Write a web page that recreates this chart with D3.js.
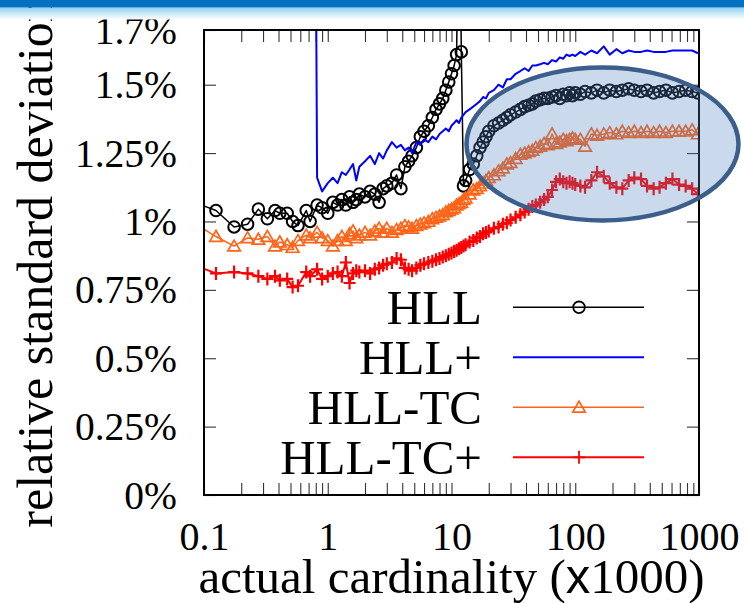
<!DOCTYPE html>
<html>
<head>
<meta charset="utf-8">
<script src="https://cdn.jsdelivr.net/npm/d3@7"></script>
<style>
  html, body { margin: 0; padding: 0; background: #fff; }
  svg { display: block; }
</style>
</head>
<body>
<svg id="chart" width="744" height="603"></svg>
<script>
// Actual cardinality, in thousands (shared sample points of every series)
const cardinality = [
  0.09, 0.125, 0.175, 0.225, 0.275, 0.325, 0.375, 0.41, 0.47, 0.52, 0.575, 0.67, 0.72, 0.82,
  0.9, 1.0, 1.1, 1.2, 1.3, 1.4, 1.5, 1.6, 1.7, 1.8,
  2.0, 2.2, 2.4, 2.6, 2.8, 3.0, 3.3, 3.6, 3.9, 4.2, 4.5, 4.8,
  5.2, 5.6, 6.0, 6.5, 7.0, 7.5, 8.0, 8.5, 9.0, 9.5,
  10, 10.5, 11, 11.5, 12, 12.5, 13, 14, 15, 16, 17, 18, 19,
  20, 22, 24, 26, 28, 30, 33, 36, 39, 42, 45, 48,
  52, 56, 60, 65, 70, 75, 80, 85, 90, 95, 100,
  110, 120, 135, 150, 170, 190, 215, 240, 270, 300,
  340, 380, 430, 480, 540, 610, 690, 780, 880, 980
];

// Relative standard deviation (%) per estimator
const hll = [
  1.064, 1.04, 0.98, 0.99, 1.045, 1.01, 1.04, 1.03, 1.03, 1.0, 0.985, 1.04, 1.0, 1.06,
  1.05, 1.03, 1.07, 1.06, 1.08, 1.06, 1.09, 1.07, 1.08, 1.10,
  1.09, 1.11, 1.10, 1.07, 1.12, 1.13, 1.14, 1.17, 1.12, 1.20, 1.22, 1.24,
  1.27, 1.31, 1.33, 1.35, 1.38, 1.41, 1.43, 1.45, 1.48, 1.51,
  1.54, 1.57, 1.61, 2.4, 1.62, 1.13, 1.15, 1.19, 1.21, 1.24, 1.27, 1.29, 1.31,
  1.33, 1.35, 1.36, 1.37, 1.38, 1.39, 1.40, 1.41, 1.42, 1.425, 1.43, 1.44,
  1.445, 1.45, 1.45, 1.455, 1.46, 1.45, 1.465, 1.46, 1.47, 1.46, 1.47,
  1.465, 1.475, 1.47, 1.48, 1.47, 1.48, 1.475, 1.48, 1.485, 1.48,
  1.475, 1.48, 1.47, 1.475, 1.48, 1.47, 1.475, 1.48, 1.475, 1.47
];

const hllPlus = [
  null, null, null, null, null, null, null, null, null, null, null, null, 6.0, 1.16,
  1.11, 1.14, 1.16, 1.14, 1.18, 1.17, 1.19, 1.21, 1.15, 1.20,
  1.22, 1.24, 1.21, 1.25, 1.23, 1.26, 1.29, 1.27, 1.28, 1.26, 1.27, 1.25,
  1.29, 1.28, 1.30, 1.29, 1.31, 1.30, 1.32, 1.33, 1.34, 1.33,
  1.35, 1.36, 1.37, 1.36, 1.38, 1.39, 1.40, 1.41, 1.42, 1.43, 1.44, 1.455, 1.45,
  1.47, 1.48, 1.50, 1.49, 1.52, 1.52, 1.54, 1.55, 1.56, 1.55, 1.57, 1.57,
  1.575, 1.58, 1.575, 1.59, 1.585, 1.60, 1.595, 1.61, 1.605, 1.61, 1.605,
  1.62, 1.61, 1.625, 1.615, 1.64, 1.61, 1.63, 1.615, 1.625, 1.62,
  1.62, 1.625, 1.62, 1.62, 1.62, 1.625, 1.625, 1.625, 1.625, 1.615
];

const hllTc = [
  0.985, 0.945, 0.91, 0.94, 0.935, 0.945, 0.91, 0.925, 0.915, 0.905, 0.93, 0.95, 0.94, 0.96,
  0.94, 0.93, 0.91, 0.93, 0.945, 0.93, 0.955, 0.965, 0.94, 0.95,
  0.96, 0.95, 0.965, 0.975, 0.96, 0.975, 0.96, 0.97, 0.975, 0.985, 0.98, 0.975,
  0.985, 0.99, 0.995, 1.0, 1.01, 1.015, 1.02, 1.025, 1.035, 1.04,
  1.045, 1.05, 1.06, 1.065, 1.07, 1.08, 1.085, 1.10, 1.115, 1.12, 1.13, 1.14, 1.15,
  1.16, 1.17, 1.185, 1.195, 1.21, 1.215, 1.23, 1.245, 1.25, 1.255, 1.26, 1.27,
  1.275, 1.285, 1.28, 1.32, 1.285, 1.29, 1.30, 1.295, 1.30, 1.305, 1.30,
  1.30, 1.275, 1.32, 1.315, 1.32, 1.325, 1.32, 1.33, 1.325, 1.33,
  1.325, 1.33, 1.325, 1.33, 1.325, 1.33, 1.33, 1.33, 1.335, 1.32
];

const hllTcPlus = [
  0.835, 0.81, 0.815, 0.81, 0.80, 0.79, 0.80, 0.785, 0.79, 0.76, 0.765, 0.815, 0.80, 0.825,
  0.79, 0.80, 0.81, 0.815, 0.80, 0.85, 0.775, 0.81, 0.82, 0.815,
  0.82, 0.81, 0.825, 0.83, 0.84, 0.845, 0.85, 0.865, 0.86, 0.83, 0.825, 0.82,
  0.83, 0.84, 0.845, 0.85, 0.855, 0.86, 0.865, 0.87, 0.875, 0.88,
  0.885, 0.89, 0.895, 0.90, 0.905, 0.91, 0.915, 0.925, 0.93, 0.94, 0.945, 0.955, 0.96,
  0.965, 0.975, 0.98, 0.99, 0.995, 1.005, 1.015, 1.025, 1.035, 1.045, 1.055, 1.06,
  1.07, 1.08, 1.09, 1.115, 1.145, 1.155, 1.145, 1.14, 1.145, 1.14, 1.135,
  1.13, 1.125, 1.15, 1.18, 1.165, 1.14, 1.125, 1.12, 1.15, 1.16,
  1.155, 1.13, 1.12, 1.125, 1.14, 1.155, 1.135, 1.13, 1.12, 1.10
];

const seriesNames = ["HLL", "HLL+", "HLL-TC", "HLL-TC+"];
const xMajorTicks = [0.1, 1, 10, 100, 1000];
const xTickLabels = ["0.1", "1", "10", "100", "1000"];
const yTicks = [0, 0.25, 0.5, 0.75, 1, 1.25, 1.5, 1.7];
const yTickLabels = ["0%", "0.25%", "0.5%", "0.75%", "1%", "1.25%", "1.5%", "1.7%"];

const serif = "'Liberation Serif', 'Times New Roman', Times, serif";
const svg = d3.select("#chart");

const plot = { left: 204, right: 699, top: 30, bottom: 495 };
const x = d3.scaleLog().domain([0.1, 1000]).range([plot.left, plot.right]);
const y = d3.scaleLinear().domain([0, 1.7]).range([plot.bottom, plot.top]);

// minor ticks 2..9 inside each decade
const xMinorTicks = [];
for (let i = 0; i < xMajorTicks.length - 1; i++) {
  for (let k = 2; k <= 9; k++) xMinorTicks.push(xMajorTicks[i] * k);
}
const xAllTicks = xMajorTicks.concat(xMinorTicks);

// slide header band
const defs = svg.append("defs");
const grad = defs.append("linearGradient").attr("id", "hdrFade")
  .attr("x1", 0).attr("y1", 0).attr("x2", 0).attr("y2", 1);
grad.append("stop").attr("offset", "0%").attr("stop-color", "#8fd2f3");
grad.append("stop").attr("offset", "100%").attr("stop-color", "#ffffff");

defs.append("clipPath").attr("id", "plotClip")
  .append("rect")
  .attr("x", plot.left).attr("y", plot.top)
  .attr("width", plot.right - plot.left).attr("height", plot.bottom - plot.top);

// axes
function styleTicks(g) {
  g.select(".domain").remove();
  g.selectAll(".tick line").attr("stroke", "#333").attr("stroke-width", 1.1);
  g.selectAll("text").attr("fill", "#000").attr("font-family", serif);
}

svg.append("g")
  .attr("transform", `translate(0,${plot.bottom})`)
  .call(d3.axisBottom(x).tickValues(xAllTicks).tickSize(-12)
    .tickFormat(d => { const i = xMajorTicks.indexOf(d); return i >= 0 ? xTickLabels[i] : ""; }))
  .call(styleTicks)
  .call(g => g.selectAll("text").attr("font-size", 40).attr("y", 55).attr("dy", 0));

svg.append("g")
  .attr("transform", `translate(0,${plot.top})`)
  .call(d3.axisTop(x).tickValues(xAllTicks).tickSize(-12).tickFormat(""))
  .call(styleTicks);

svg.append("g")
  .attr("transform", `translate(${plot.left},0)`)
  .call(d3.axisLeft(y).tickValues(yTicks).tickSize(-12).tickPadding(27)
    .tickFormat((d, i) => yTickLabels[i]))
  .call(styleTicks)
  .call(g => g.selectAll("text").attr("font-size", 39.5).attr("dy", "0.33em"));

svg.append("g")
  .attr("transform", `translate(${plot.right},0)`)
  .call(d3.axisRight(y).tickValues(yTicks).tickSize(-12).tickFormat(""))
  .call(styleTicks);

// axis titles
svg.append("text")
  .attr("transform", `translate(52,${(plot.top + plot.bottom) / 2}) rotate(-90)`)
  .attr("text-anchor", "middle")
  .attr("font-family", serif).attr("font-size", 50).attr("fill", "#000")
  .text("relative standard deviation");

const xTitle = svg.append("text")
  .attr("x", (plot.left + plot.right) / 2).attr("y", 593)
  .attr("text-anchor", "middle")
  .attr("font-family", serif).attr("font-size", 49).attr("fill", "#000");
xTitle.append("tspan").text("actual cardinality (");
xTitle.append("tspan").attr("font-family", "'Liberation Sans', Arial, sans-serif").text("x");
xTitle.append("tspan").text("1000)");

// series
const markerShapes = {
  circle: g => g.append("circle").attr("r", 5.8).attr("fill", "none"),
  triangle: g => g.append("path").attr("d", "M0,-6L6.3,4.8L-6.3,4.8Z").attr("fill", "none"),
  plus: g => g.append("path").attr("d", "M-6,0H6M0,-6.5V6.5").attr("fill", "none"),
  none: null
};

const series = [
  { name: seriesNames[0], values: hll, color: "#000000", width: 1.5, marker: "circle", mw: 2 },
  { name: seriesNames[1], values: hllPlus, color: "#0000ff", width: 2, marker: "none", mw: 1 },
  { name: seriesNames[2], values: hllTc, color: "#ff6418", width: 1.5, marker: "triangle", mw: 1.7 },
  { name: seriesNames[3], values: hllTcPlus, color: "#ff0000", width: 2, marker: "plus", mw: 2.2 }
];

const plotG = svg.append("g").attr("clip-path", "url(#plotClip)");
const line = d3.line().defined(d => d.v != null).x(d => x(d.c)).y(d => y(d.v));

series.forEach(s => {
  const rows = cardinality.map((c, i) => ({ c, v: s.values[i] }));
  plotG.append("path").datum(rows)
    .attr("fill", "none").attr("stroke", s.color)
    .attr("stroke-width", s.width).attr("stroke-linejoin", "round")
    .attr("d", line);
  const draw = markerShapes[s.marker];
  if (draw) {
    rows.filter(d => d.v != null).forEach(d => {
      const m = plotG.append("g").attr("transform", `translate(${x(d.c)},${y(d.v)})`);
      draw(m).attr("stroke", s.color).attr("stroke-width", s.mw);
    });
  }
});

// legend
const legend = svg.append("g");
series.forEach((s, i) => {
  const ly = 307.3 + i * 50;
  legend.append("text")
    .attr("x", 482).attr("y", ly + 16.5)
    .attr("text-anchor", "end")
    .attr("font-family", serif).attr("font-size", 49).attr("fill", "#000")
    .text(s.name);
  legend.append("line")
    .attr("x1", 513).attr("x2", 644).attr("y1", ly).attr("y2", ly)
    .attr("stroke", s.color).attr("stroke-width", s.width);
  const draw = markerShapes[s.marker];
  if (draw) {
    const m = legend.append("g").attr("transform", `translate(579,${ly})`);
    draw(m).attr("stroke", s.color).attr("stroke-width", Math.min(s.mw, 1.8));
  }
});

// plot frame
svg.append("rect")
  .attr("x", plot.left).attr("y", plot.top)
  .attr("width", plot.right - plot.left).attr("height", plot.bottom - plot.top)
  .attr("fill", "none").attr("stroke", "#000").attr("stroke-width", 2);

// highlight ellipse over the large-cardinality region
svg.append("ellipse")
  .attr("cx", 602.5).attr("cy", 144).attr("rx", 136).attr("ry", 76.5)
  .attr("fill", "#4f81bd").attr("fill-opacity", 0.3)
  .attr("stroke", "#3b5f8a").attr("stroke-width", 4.5);

// header band
svg.append("rect").attr("x", 0).attr("y", 7.5).attr("width", 744).attr("height", 12)
  .attr("fill", "url(#hdrFade)");
svg.append("rect").attr("x", 0).attr("y", 0).attr("width", 744).attr("height", 7.5)
  .attr("fill", "#0070c0");
</script>
</body>
</html>
